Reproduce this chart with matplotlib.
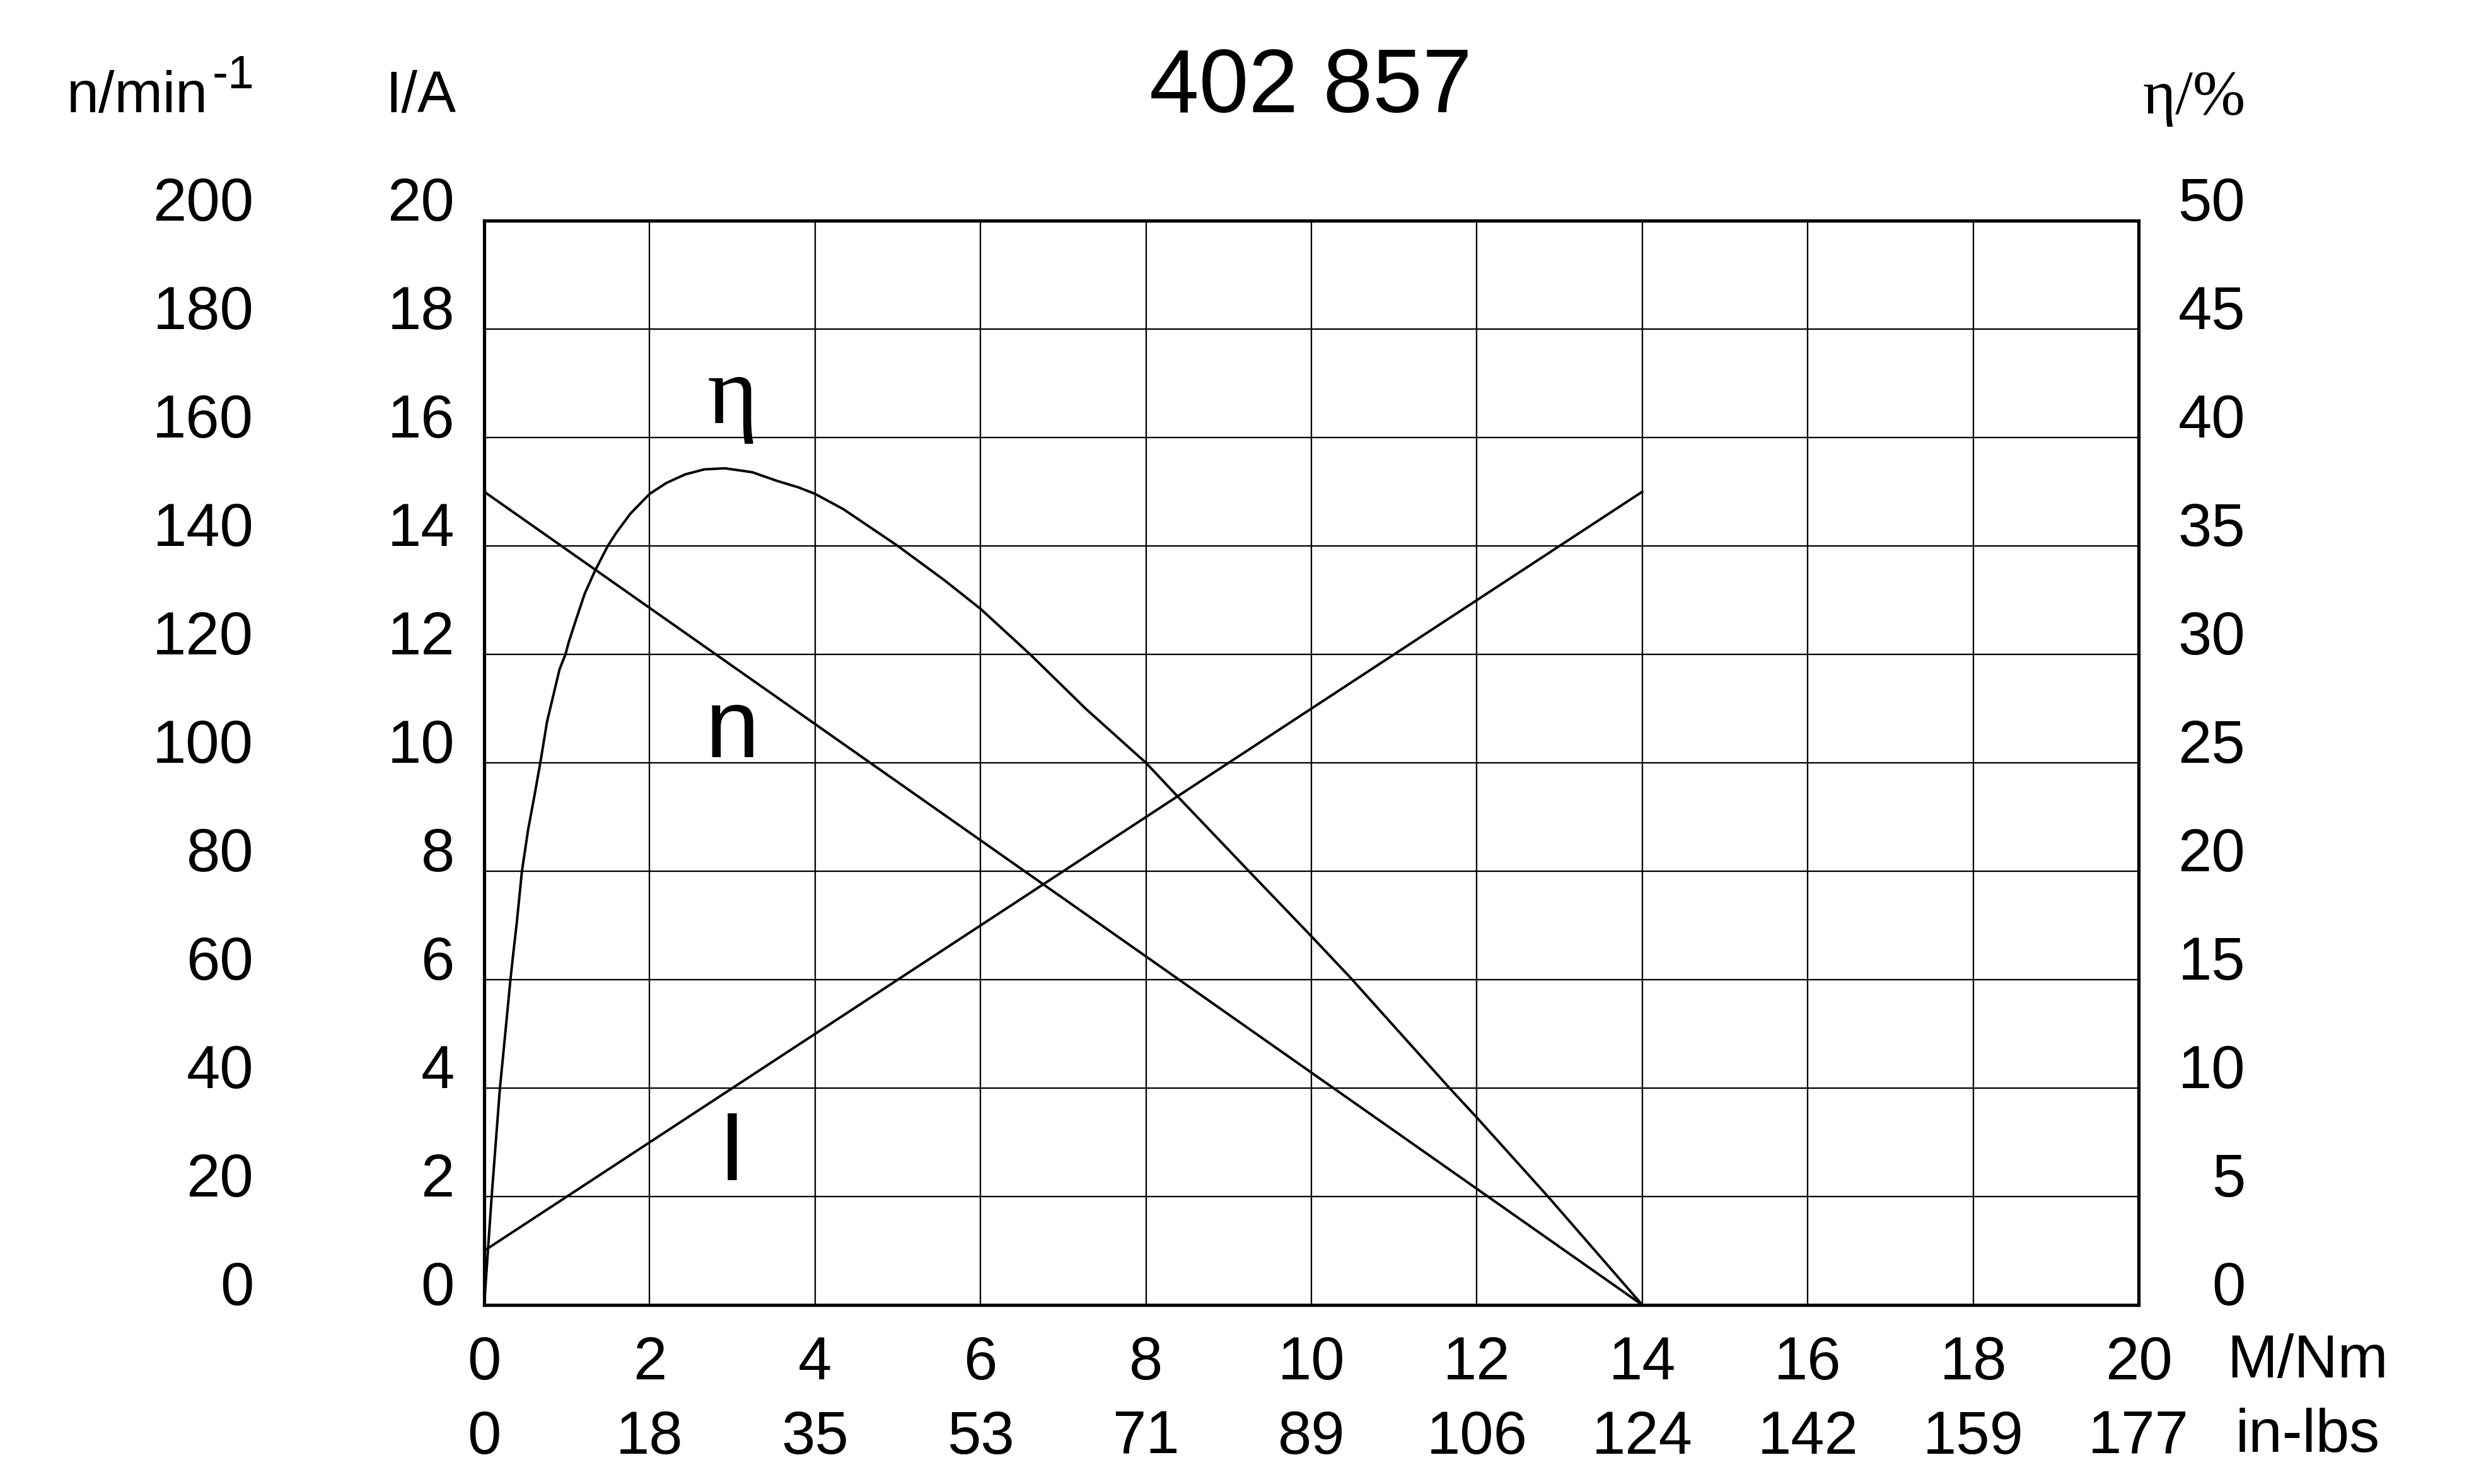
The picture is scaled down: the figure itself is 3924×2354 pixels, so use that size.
import matplotlib
matplotlib.use("Agg")
import matplotlib.pyplot as plt

# ---------------- data ----------------
torque_ticks = [0, 2, 4, 6, 8, 10, 12, 14, 16, 18, 20]          # M/Nm
inlbs_labels = ["0", "18", "35", "53", "71", "89", "106", "124", "142", "159", "177"]
current_ticks = [0, 2, 4, 6, 8, 10, 12, 14, 16, 18, 20]         # I/A
speed_ticks = [0, 20, 40, 60, 80, 100, 120, 140, 160, 180, 200]  # n/min-1
eff_ticks = [0, 5, 10, 15, 20, 25, 30, 35, 40, 45, 50]           # eta/%

speed_M = [0, 14]
speed_n = [150, 0]

current_M = [0, 14]
current_I = [1, 15]

eff_M = [0, 0.09, 0.145, 0.19, 0.254, 0.317, 0.354, 0.393, 0.456, 0.53, 0.608,
         0.678, 0.76, 0.835, 0.91, 0.982, 1.025, 1.11, 1.215, 1.34, 1.494,
         1.595, 1.77, 2.0, 2.2, 2.43, 2.66, 2.91, 3.24, 3.54, 3.80, 4.0, 4.34,
         5.0, 5.57, 6.0, 6.6, 7.27, 8.0, 8.37, 9.22, 10.0, 10.47, 11.67, 12.0,
         12.86, 14.0]
eff_eta = [0, 5, 7.75, 10, 12.5, 15, 16.3, 17.6, 20, 21.9, 23.5,
           25, 26.9, 28.1, 29.3, 30, 30.6, 31.6, 32.8, 33.86, 35,
           35.6, 36.5, 37.4, 37.9, 38.3, 38.53, 38.58, 38.4, 38.0, 37.7, 37.4, 36.7,
           35, 33.4, 32.1, 30, 27.5, 25, 23.5, 20.1, 17.0, 15.1, 10, 8.64,
           5, 0]

# ---------------- figure ----------------
W, H = 3924, 2354
DPI = 300
plt.rcParams['font.family'] = ['Liberation Sans', 'DejaVu Sans']
SANS = ['Liberation Sans', 'DejaVu Sans']
SERIF = ['Liberation Serif', 'DejaVu Serif']

fig = plt.figure(figsize=(W / DPI, H / DPI), dpi=DPI)
fig.patch.set_facecolor('white')

L, R, T, B = 768, 3392, 350, 2070
ax = fig.add_axes([L / W, 1 - B / H, (R - L) / W, (B - T) / H])

def fx(px):
    return px / W

def fy(py):
    return 1 - py / H

TICK_FS = 23
HEAD_FS = 22
LW_CURVE = 0.95
LW_GRID = 0.55
LW_SPINE = 1.25

# main axis: current
ax.set_xlim(0, 20)
ax.set_ylim(0, 20)
ax.set_xticks(torque_ticks)
ax.set_xticklabels([str(v) for v in torque_ticks])
ax.set_yticks(current_ticks)
ax.set_yticklabels([str(v) for v in current_ticks])
ax.grid(True, color='black', linewidth=LW_GRID)
ax.set_axisbelow(True)
for s in ax.spines.values():
    s.set_linewidth(LW_SPINE)
    s.set_color('black')
ax.tick_params(axis='both', length=0, labelsize=TICK_FS, colors='black')
ax.tick_params(axis='x', pad=11.5)
ax.tick_params(axis='y', pad=11.3)
for lbl in ax.get_yticklabels():
    lbl.set_verticalalignment('baseline')

ax.plot(current_M, current_I, color='black', linewidth=LW_CURVE, zorder=3)

# in-lbs row
sec = ax.secondary_xaxis('bottom')
sec.set_xticks(torque_ticks)
sec.set_xticklabels(inlbs_labels)
sec.tick_params(axis='x', length=0, pad=39.8, labelsize=TICK_FS, colors='black')
sec.spines['bottom'].set_visible(False)

# speed axis (left, outer)
ax_n = ax.twinx()
ax_n.set_ylim(0, 200)
ax_n.set_yticks(speed_ticks)
ax_n.set_yticklabels([str(v) for v in speed_ticks])
ax_n.yaxis.set_ticks_position('left')
ax_n.tick_params(axis='y', length=0, pad=87.8, labelsize=TICK_FS,
                 labelleft=True, labelright=False, colors='black')
for s in ax_n.spines.values():
    s.set_visible(False)
for lbl in ax_n.get_yticklabels():
    lbl.set_verticalalignment('baseline')
ax_n.plot(speed_M, speed_n, color='black', linewidth=LW_CURVE, zorder=3)

# efficiency axis (right)
ax_e = ax.twinx()
ax_e.set_ylim(0, 50)
ax_e.set_yticks(eff_ticks)
ax_e.set_yticklabels([str(v) for v in eff_ticks])
ax_e.tick_params(axis='y', length=0, pad=40.6, labelsize=TICK_FS, colors='black')
for s in ax_e.spines.values():
    s.set_visible(False)
for lbl in ax_e.get_yticklabels():
    lbl.set_verticalalignment('baseline')
    lbl.set_horizontalalignment('right')
ax_e.plot(eff_M, eff_eta, color='black', linewidth=LW_CURVE, zorder=3,
          solid_joinstyle='round')

# curve labels
ax.text(3.0, 16.27, 'η', fontsize=37, family=SERIF, ha='center', va='baseline')
ax.text(3.0, 10.1, 'n', fontsize=37, family=SANS, ha='center', va='baseline')
ax.text(3.0, 2.3, 'I', fontsize=37, family=SANS, ha='center', va='baseline')

# headers
fig.text(fx(2079), fy(178), '402 857', fontsize=34, ha='center', va='baseline')
fig.text(fx(106), fy(178), 'n/min', fontsize=HEAD_FS, ha='left', va='baseline')
fig.text(fx(337), fy(140), '-1', fontsize=18, ha='left', va='baseline')
fig.text(fx(612), fy(178), 'I/A', fontsize=HEAD_FS, ha='left', va='baseline')
fig.text(fx(3562), fy(180), 'η/%', fontsize=24, family=SERIF, ha='right', va='baseline')
fig.text(fx(3532), fy(2185), 'M/Nm', fontsize=TICK_FS, ha='left', va='baseline')
fig.text(fx(3546), fy(2303), 'in-lbs', fontsize=TICK_FS, ha='left', va='baseline')

fig.savefig('out.png', dpi=DPI, facecolor='white')
